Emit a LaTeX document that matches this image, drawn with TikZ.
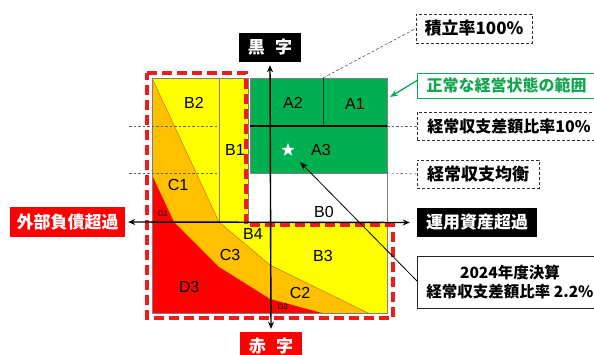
\documentclass[tikz,border=0pt]{standalone}
\usepackage{fontspec}
\setmainfont{Liberation Sans}
\newfontfamily\cjk{Noto Sans CJK JP}
\usetikzlibrary{arrows.meta,shapes.geometric}
\definecolor{cyel}{HTML}{FFFF00}
\definecolor{corg}{HTML}{FFC000}
\definecolor{cred}{HTML}{FF0000}
\definecolor{cgrn}{HTML}{00B050}
\definecolor{cgrid}{HTML}{7F7F7F}
\definecolor{cedge}{HTML}{D97A00}
\definecolor{dred}{HTML}{F01C1C}
\definecolor{tgrn}{HTML}{14A64E}
\begin{document}
\begin{tikzpicture}[x=1pt,y=-1pt,
  zone/.style={font=\fontsize{16}{16}\selectfont, inner sep=0},
  tiny/.style={font=\fontsize{8}{8}\selectfont, inner sep=0},
  jfont/.style={font=\cjk\bfseries\fontsize{17}{19}\selectfont},
  jsmall/.style={font=\cjk\bfseries\fontsize{16}{19}\selectfont},
  dbox/.style={jfont, draw=black!80, densely dashed, line width=0.8pt, fill=white, inner xsep=8pt},
  blackbox/.style={jfont, fill=black, text=white, inner sep=0},
  redbox/.style={jfont, fill=cred, text=white, inner sep=0},
  guide/.style={draw=black!60, dash pattern=on 2.5pt off 2pt, line width=0.6pt},
  axisline/.style={line width=1.4pt, {Stealth[length=7pt,width=6pt]}-{Stealth[length=7pt,width=6pt]}},
  leader/.style={line width=0.6pt, -{Stealth[length=8pt,width=6pt]}},
  gridline/.style={draw=cgrid, line width=0.6pt}
]
\clip (0,0) rectangle (594,354);
\fill[white] (0,0) rectangle (594,354);

% --- coloured zones ---
\fill[cyel] (152,78) rectangle (248,222);
\fill[cyel] (152,222) rectangle (387,313);
\fill[cgrn] (250,78) rectangle (387,173);
\fill[corg] (152,78) -- (219,222) -- (270,265) -- (368,313) -- (152,313) -- cycle;
\fill[cred] (152,175) -- (174,222) -- (219,267) -- (270,299) -- (322,313) -- (152,313) -- cycle;
\draw[cedge, line width=0.6pt] (152,78) -- (219,222) -- (270,265) -- (368,313);

% --- grid lines ---
\draw[gridline] (152,78) rectangle (248,222);
\draw[gridline] (219,78) -- (219,222);
\draw[gridline] (152,222) rectangle (387,313);
\draw[gridline] (250,78) rectangle (387,173);
\draw[gridline] (387,173) -- (387,222);
\draw[black!85, line width=0.7pt] (323,78) -- (323,126);
\draw[black, line width=1.2pt] (250,126) -- (387,126);
\draw[guide] (129,126) -- (219,126);
\draw[guide] (129,173) -- (219,173);

% --- zone labels ---
\node[zone] (b2) at (194,103) {B2};
\node[zone] (b1) at (235,150) {B1};
\node[zone] (a2) at (293,103) {A2};
\node[zone] (a1) at (355,104) {A1};
\node[zone] (a3) at (321,150) {A3};
\node[star, star points=5, star point ratio=2.5, fill=white, minimum size=14pt, inner sep=0] (star) at (288,150) {};
\node[zone] (c1) at (178,185) {C1};
\node[zone] (b0) at (324,212) {B0};
\node[zone] (b4) at (253,234) {B4};
\node[zone] (c3) at (230,255) {C3};
\node[zone] (b3) at (323,256) {B3};
\node[zone] (d3) at (189,287) {D3};
\node[zone] (c2) at (300,293) {C2};
\node[tiny] (d1) at (163,214) {D1};
\node[tiny] (d2) at (283,307) {D2};

% --- red dashed outline ---
\draw[dred, line width=3.5pt, dash pattern=on 10pt off 5pt] (147,73) -- (246,73) -- (246,225) -- (393,225) -- (393,318) -- (147,318) -- cycle;

% --- axis labels ---
\node[blackbox, minimum width=62, minimum height=29] (kuro) at (270,47.5) {黒\hspace{0.6em}字};
\node[redbox, minimum width=62, minimum height=29] (aka) at (271,346.5) {赤\hspace{0.6em}字};
\node[redbox, minimum width=115, minimum height=30] (gaibu) at (67.5,222) {外部負債超過};
\node[blackbox, minimum width=120, minimum height=29] (unyo) at (477,222.5) {運用資産超過};

% --- axes ---
\draw[axisline, shorten <=3pt, shorten >=3pt] (kuro.south) -- (aka.north);
\draw[axisline, shorten <=3pt, shorten >=7pt] (gaibu.east) -- (unyo.west);

% --- right-hand notes ---
\node[dbox, minimum width=116, minimum height=29] (tsumi) at (474,28.5) {積立率100\%};
\node[jsmall, draw=cgrn, line width=1pt, text=tgrn, fill=white, anchor=west, minimum height=25, inner xsep=9pt] (seijo) at (417,85.5) {正常な経営状態の範囲};
\node[dbox, jsmall, anchor=west, minimum height=28, inner xsep=10pt] (ratio) at (417,126) {経常収支差額比率10\%};
\node[dbox, minimum width=122, minimum height=28] (kinko) at (478,174) {経常収支均衡};
\node[font=\cjk\bfseries\fontsize{15.5}{19}\selectfont, draw=black!85, line width=0.9pt, fill=white, anchor=west, minimum width=185, minimum height=52, align=center] (kessan) at (417,282) {2024年度決算\\経常収支差額比率\ 2.2\%};

% --- leaders ---
\coordinate (a12top) at (323,78);
\coordinate (g1) at (387,126);
\coordinate (g2) at (387,173);
\coordinate (gtip) at (390,97);
\coordinate (sttip) at (300,162);
\draw[black!75, line width=0.5pt, densely dashed] (a12top) -- (tsumi.west);
\draw[guide] (g1) -- (ratio.west);
\draw[guide] (g2) -- (kinko.west);
\draw[leader, draw=cgrn, line width=1.3pt] ([yshift=5pt]seijo.west) -- (gtip);
\draw[leader, line width=0.8pt] ([yshift=1pt]kessan.west) -- (sttip);
\end{tikzpicture}
\end{document}
